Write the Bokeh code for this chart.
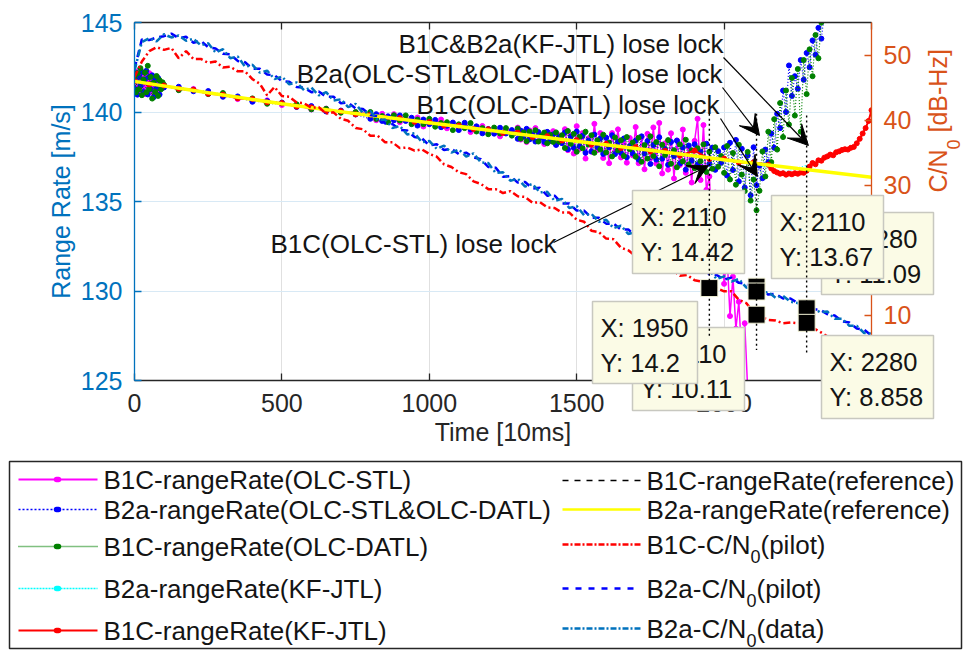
import math
from bokeh.plotting import figure
from bokeh.models import Range1d, LinearAxis, FixedTicker, Label, Arrow, VeeHead
from bokeh.core.properties import value
from bokeh.embed import file_html
from bokeh.resources import INLINE

FONT = "Liberation Sans"
DARK = "#262626"
AX_BLUE = "#0072BD"
AX_ORANGE = "#D95319"
INK = "#141414"

# ---------------------------------------------------------------- time grids [10 ms]
olc_t = (list(range(0, 100, 5)) + list(range(100, 800, 50))
         + list(range(800, 1300, 20)) + list(range(1300, 2341, 10)))
stl_t = (list(range(0, 100, 5)) + list(range(100, 800, 50))
         + list(range(800, 1300, 20)) + list(range(1300, 2081, 10)))
kf_b1c_t = list(range(0, 2151, 50)) + list(range(2160, 2501, 10))
kf_b2a_t = list(range(0, 2301, 100)) + list(range(2320, 2501, 20))
ref_t = list(range(0, 2501, 250))
cn0_t = (list(range(0, 2101, 25)) + [2110] + list(range(2125, 2276, 25))
         + [2280] + list(range(2300, 2501, 25)))

# ---------------------------------------------------------------- range rate [m/s]
b1c_stl_rr = [
    141.90, 141.39, 142.27, 141.16, 141.95, 141.44, 142.12, 141.01, 142.00, 141.48,
    142.17, 141.16, 141.75, 141.03, 141.92, 141.21, 141.70, 141.28, 141.57, 141.36,
    141.49, 141.24, 141.29, 141.02, 141.00, 140.72, 140.72, 140.65, 140.39, 140.38,
    140.14, 140.19, 139.98, 139.99,
    139.90, 139.54, 139.90, 139.62, 139.88, 139.43, 139.60, 139.40, 139.69, 139.19,
    139.49, 139.31, 139.58, 139.09, 139.34, 139.11, 139.31, 138.88, 139.13, 139.22,
    138.85, 138.99, 138.64, 139.01, 138.78,
    139.13, 138.46, 138.89, 138.32, 138.97, 138.55, 139.10, 138.38, 138.71, 138.21,
    138.87, 138.37, 138.93, 138.18, 138.70, 138.36,
    139.04, 137.87, 138.70, 137.68, 139.21, 137.94, 138.82, 137.40, 138.53, 137.78,
    139.34, 137.87, 138.82, 137.43, 138.56, 137.14, 138.82, 137.80, 139.03, 137.46,
    138.24, 137.17, 138.55, 137.58, 139.16,
    137.14, 138.57, 136.80, 138.78, 137.41, 139.14, 137.12, 139.39, 136.57, 138.25,
    136.78, 138.81, 136.29, 138.41, 137.04, 139.02, 136.60, 138.03, 136.06, 138.39,
    139.62, 136.20, 139.27, 135.65,
    136.40, 133.00, 135.50, 131.20, 133.80, 130.40, 132.00, 128.60, 130.80, 127.90,
    129.40, 126.30, 128.20, 124.50,
]

b2a_olc_rr = [
    141.30, 142.19, 140.97, 141.96, 141.45, 142.24, 141.12, 141.81, 142.30, 140.98,
    141.97, 141.26, 142.05, 140.83, 141.82, 141.31, 141.90, 140.98, 141.57, 141.36,
    141.37, 141.41, 141.16, 141.17, 140.85, 140.87, 140.57, 140.61, 140.53, 140.28,
    140.33, 140.03, 140.08, 139.86,
    139.62, 139.88, 139.50, 139.76, 139.54, 139.81, 139.50, 139.68, 139.24, 139.58,
    139.32, 139.56, 139.15, 139.23, 139.41, 138.99, 139.40, 139.02, 139.20, 138.81,
    139.05, 138.79, 139.12, 138.80, 138.99,
    138.50, 138.96, 138.62, 139.06, 138.47, 138.75, 138.35, 138.88, 138.56, 138.33,
    138.89, 138.39, 138.75, 138.16, 138.60, 138.26, 138.86, 137.92, 138.62, 138.00,
    138.91, 138.09, 138.68, 137.72, 138.40, 137.80, 138.74, 138.04, 138.52, 137.66,
    138.56, 138.02, 138.70, 137.65, 138.33, 137.72, 138.52, 137.47, 138.10, 137.68,
    138.40, 137.34, 138.64, 137.68, 138.38, 137.10, 138.16, 137.34, 138.59, 137.39,
    137.93, 137.05, 138.33, 137.54, 138.40, 137.12, 138.02, 136.78, 138.13, 137.28,
    138.20, 137.08, 137.78, 136.77, 138.23, 137.11, 138.01, 136.77, 137.81, 137.16,
    138.02, 136.45, 138.28, 136.76, 138.44, 136.12, 137.95, 135.78, 137.57, 135.35,
    138.03, 135.91,
    137.00, 136.30, 137.90, 137.20, 138.80, 138.00, 139.90, 139.10, 141.20, 140.00,
    142.60, 140.90, 142.00, 141.30, 142.90, 141.80, 143.30, 142.50, 144.00, 143.20,
    144.70, 144.10, 145.50,
]

b1c_datl_rr = [
    142.00, 141.09, 142.17, 141.26, 142.45, 140.94, 141.82, 142.21, 141.10, 142.58,
    141.27, 141.96, 140.75, 141.63, 141.12, 142.01, 140.90, 141.78, 141.27, 141.66,
    141.52, 141.22, 141.24, 141.00, 141.06, 140.78, 140.76, 140.46, 140.48, 140.43,
    140.15, 140.18, 139.96, 140.00,
    140.00, 139.61, 139.77, 139.43, 139.82, 139.52, 139.81, 139.32, 139.58, 139.32,
    139.62, 139.18, 139.38, 139.43, 138.99, 139.31, 139.10, 139.38, 138.91, 139.10,
    138.76, 139.13, 138.80, 139.10, 138.68,
    139.08, 138.51, 138.86, 138.37, 138.91, 138.57, 138.98, 138.35, 138.66, 138.85,
    138.25, 138.73, 138.33, 138.86, 138.34, 138.70, 137.99, 138.94, 138.22, 138.78,
    137.78, 138.62, 137.97, 138.90, 138.18, 138.70, 137.72, 138.42, 137.90, 138.73,
    137.74, 138.29, 137.52, 138.58, 137.86, 138.42, 137.54, 138.60, 137.92, 138.30,
    137.50, 138.56, 137.22, 138.15, 137.40, 138.64, 137.54, 138.32, 136.97, 138.17,
    137.60, 138.43, 137.11, 137.87, 136.91, 138.19, 137.24, 138.45, 137.06, 137.86,
    136.86, 137.98, 137.25, 138.19, 136.65, 137.78, 136.83, 138.03, 136.94, 137.54,
    136.60, 138.10, 136.23, 137.71, 135.94, 138.17, 136.50, 135.58, 137.77, 135.05,
    136.23, 134.51,
    135.60, 137.80, 136.40, 138.90, 137.20, 139.60, 137.90, 140.50, 138.60, 141.20,
    139.30, 141.90, 139.80, 142.40, 138.90, 142.90, 141.00, 143.50, 142.00, 144.30,
    143.00, 145.00, 146.00,
]

b2a_kf_rr = [
    141.68, 141.45, 141.21, 140.95, 140.70, 140.46, 140.24, 140.02, 139.81, 139.61,
    139.41, 139.20, 138.99, 138.79, 138.58, 138.37, 138.17, 137.97, 137.76, 137.55,
    137.33, 137.14, 136.62, 137.12,
    137.28, 137.43, 137.60, 137.73, 137.86, 137.92, 138.03, 138.48, 139.08, 140.05,
]

b1c_kf_rr = [
    141.72, 141.54, 141.48, 141.30, 141.24, 141.02, 140.97, 140.77, 140.73, 140.54,
    140.50, 140.30, 140.26, 140.07, 140.05, 139.87, 139.85, 139.66, 139.66, 139.45,
    139.44, 139.24, 139.24, 139.05, 139.04, 138.83, 138.85, 138.61, 138.65, 138.41,
    138.43, 138.18, 138.22, 137.99, 138.04, 137.80, 137.84, 137.57, 137.84, 137.38,
    137.40, 137.18, 137.19, 137.05,
    136.85, 136.70, 136.62, 136.55, 136.58, 136.50, 136.56, 136.52, 136.58, 136.55,
    136.62, 136.60, 136.72, 136.95, 137.15, 137.08, 137.30, 137.28, 137.45, 137.52,
    137.62, 137.58, 137.75, 137.80, 137.88, 137.92, 137.90, 138.00, 138.05, 138.25,
    138.50, 138.80, 139.10, 139.50, 140.10,
]

b1c_ref_rr = [141.70, 141.06, 140.45, 139.90, 139.40, 138.88, 138.36, 137.86, 137.32, 136.84, 136.35]
b2a_ref_rr = [141.71, 141.07, 140.46, 139.91, 139.40, 138.88, 138.37, 137.86, 137.33, 136.84, 136.36]

# ---------------------------------------------------------------- C/N0 [dB-Hz]
b1c_cn0_pilot = [
    46.6, 49.0, 50.6, 51.2, 50.8, 51.1, 49.5, 50.6, 49.4, 49.4,
    48.8, 49.0, 48.1, 48.2, 47.5, 47.5, 46.3, 45.6, 43.8, 45.1,
    43.7, 43.6, 42.7, 42.6, 41.9, 42.0, 41.0, 41.2, 40.2, 39.9,
    38.8, 38.6, 37.6, 37.6, 36.6, 36.6, 35.7, 35.8, 35.3, 35.5,
    34.8, 34.4, 33.2, 32.8, 32.0, 31.7, 30.6, 30.2, 29.4, 29.4,
    28.8, 29.1, 28.3, 28.2, 27.3, 27.4, 26.6, 26.5, 25.8, 25.8,
    24.7, 24.4, 23.0, 22.8, 21.8, 21.7, 20.4, 20.0, 19.1, 19.0,
    18.1, 17.9, 17.1, 17.0, 16.1, 16.2, 15.4, 15.2, 14.2, 14.2,
    13.7, 13.7, 12.4, 11.9, 10.5,
    10.11,
    9.8, 9.3, 9.2, 8.8, 8.9, 8.8, 9.0,
    8.858,
    8.1, 7.5, 6.8, 6.7, 6.2, 6.1, 5.7, 5.6, 5.1,
]

b2a_cn0_pilot = [
    47.9, 52.4, 52.3, 52.7, 52.9, 53.3, 52.6, 52.8, 51.9, 52.2,
    51.2, 51.0, 50.2, 50.1, 49.1, 48.9, 47.9, 47.9, 47.0, 46.9,
    46.0, 45.9, 45.1, 45.0, 44.3, 44.4, 43.6, 43.6, 42.6, 42.7,
    41.8, 41.7, 40.8, 40.6, 39.5, 39.4, 38.5, 38.4, 37.4, 37.2,
    36.1, 36.3, 35.4, 35.6, 34.8, 35.0, 34.3, 34.0, 32.8, 32.7,
    31.3, 31.4, 30.4, 30.5, 29.5, 29.6, 28.4, 28.4, 27.2, 27.2,
    26.1, 26.1, 25.0, 25.0, 24.1, 24.1, 23.2, 23.2, 22.2, 22.1,
    21.0, 21.0, 19.9, 19.9, 18.8, 18.7, 17.5, 17.5, 16.3, 16.2,
    15.5, 15.8, 15.0, 14.9, 14.1,
    14.42,
    13.9, 13.2, 13.3, 12.6, 12.6, 11.9, 11.6,
    11.5,
    10.9, 10.9, 10.2, 10.0, 9.1, 8.9, 8.0, 7.8, 6.9,
]

b2a_cn0_data = [
    47.6, 52.0, 52.6, 52.1, 53.2, 52.7, 53.0, 52.2, 52.5, 51.5,
    51.8, 50.4, 50.9, 49.5, 49.8, 48.2, 48.5, 47.3, 47.6, 46.3,
    46.7, 45.5, 45.8, 44.6, 45.0, 43.8, 44.3, 43.0, 43.2, 42.0,
    42.5, 41.1, 41.4, 40.0, 40.1, 38.8, 39.1, 37.8, 38.0, 36.6,
    36.8, 35.6, 36.1, 35.0, 35.5, 34.4, 34.9, 33.5, 33.4, 31.9,
    32.0, 30.7, 31.0, 29.8, 30.2, 28.9, 29.0, 27.6, 27.9, 26.5,
    26.8, 25.4, 25.6, 24.4, 24.7, 23.4, 23.8, 22.5, 22.8, 21.4,
    21.7, 20.3, 20.6, 19.2, 19.4, 18.0, 18.2, 16.8, 16.9, 15.6,
    16.0, 15.2, 15.6, 14.3, 14.1,
    13.67,
    13.4, 13.6, 12.7, 13.0, 12.1, 11.9, 11.0,
    11.09,
    11.2, 10.5, 10.6, 9.5, 9.5, 8.4, 8.4, 7.3, 7.2,
]

# ---------------------------------------------------------------- data tips and loss-of-lock events
tip_t = [1950, 2110, 2110, 2110, 2280, 2280]
tip_cn0 = [14.2, 10.11, 14.42, 13.67, 11.09, 8.858]

lock_t = [1950, 2110, 2280]
lock_top = [139.9, 139.9, 139.8]
lock_bottom = [127.4, 126.7, 126.4]

callout_text = [
    "B1C&B2a(KF-JTL) lose lock",
    "B2a(OLC-STL&OLC-DATL) lose lock",
    "B1C(OLC-DATL) lose lock",
    "B1C(OLC-STL) lose lock",
]
callout_tip = [(2286, 138.13), (2120, 138.69), (2113, 136.40), (1947, 137.00)]

series_names = [
    "B1C-rangeRate(OLC-STL)",
    "B2a-rangeRate(OLC-STL&OLC-DATL)",
    "B1C-rangeRate(OLC-DATL)",
    "B2a-rangeRate(KF-JTL)",
    "B1C-rangeRate(KF-JTL)",
    "B1C-rangeRate(reference)",
    "B2a-rangeRate(reference)",
]

# ================================================================= figure
W, H = 971, 651
FL, FR, FT, FB = 134, 871, 22, 380          # plot frame edges on the canvas
X_LIM, Y_LIM, CN0_LIM = (0, 2500), (125, 145), (0, 55)

p = figure(width=W, height=H, x_range=Range1d(*X_LIM), y_range=Range1d(*Y_LIM),
           output_backend="svg", toolbar_location=None,
           min_border_left=FL, min_border_right=W - FR,
           min_border_top=FT, min_border_bottom=H - FB)
p.extra_y_ranges = {"cn0": Range1d(*CN0_LIM)}
p.outline_line_color = None
p.background_fill_color = "white"
p.border_fill_color = "white"


def cx(px):
    """canvas column -> time coordinate (for items placed around the frame)"""
    return X_LIM[0] + (px - FL) * (X_LIM[1] - X_LIM[0]) / (FR - FL)


def cy(py):
    """canvas row -> left-axis coordinate (for items placed around the frame)"""
    return Y_LIM[1] - (py - FT) * (Y_LIM[1] - Y_LIM[0]) / (FB - FT)


def style_axis(ax, color, ticks):
    ax.ticker = FixedTicker(ticks=ticks)
    ax.axis_line_color = color
    ax.axis_line_width = 1.3
    ax.major_tick_line_color = color
    ax.major_tick_line_width = 1.3
    ax.minor_tick_line_color = None
    ax.major_tick_in = 7
    ax.major_tick_out = 0
    ax.major_label_text_color = color
    ax.major_label_text_font = FONT
    ax.major_label_text_font_size = "25px"
    ax.axis_label_text_color = color
    ax.axis_label_text_font = FONT
    ax.axis_label_text_font_size = "25px"
    ax.axis_label_text_font_style = "normal"


time_ticks = [0, 500, 1000, 1500, 2000, 2500]

xa = p.xaxis[0]
style_axis(xa, DARK, time_ticks)
xa.axis_label = "Time [10ms]"
xa.major_label_standoff = 13
xa.axis_label_standoff = 3

ya = p.yaxis[0]
style_axis(ya, AX_BLUE, [125, 130, 135, 140, 145])
ya.axis_label = "Range Rate [m/s]"
ya.major_label_standoff = 12
ya.axis_label_standoff = 3

top_ax = LinearAxis()
style_axis(top_ax, DARK, time_ticks)
top_ax.major_label_text_font_size = "1px"
top_ax.major_label_text_color = None
top_ax.major_label_standoff = 0
p.add_layout(top_ax, "above")

right_ax = LinearAxis(y_range_name="cn0")
style_axis(right_ax, AX_ORANGE, [0, 10, 20, 30, 40, 50])
right_ax.major_label_standoff = 12
p.add_layout(right_ax, "right")

p.xgrid.ticker = FixedTicker(ticks=[500, 1000, 1500, 2000])
p.xgrid.grid_line_color = "#e0e0e0"
p.ygrid.ticker = FixedTicker(ticks=[130, 135, 140])
p.ygrid.grid_line_color = "#d8e9f5"

# ---- range-rate curves (left axis)
p.line(stl_t, b1c_stl_rr, line_color="#FF00FF", line_width=1.5)
p.scatter(stl_t, b1c_stl_rr, size=5, color="#FF00FF")
p.line(olc_t, b2a_olc_rr, line_color="#0000FF", line_width=1.2, line_dash="1 2")
p.scatter(olc_t, b2a_olc_rr, size=5, color="#0000FF")
p.line(olc_t, b1c_datl_rr, line_color="#008000", line_width=1.2, line_dash="1 2")
p.scatter(olc_t, b1c_datl_rr, size=5, color="#008000")
p.line(kf_b2a_t, b2a_kf_rr, line_color="#00FFFF", line_width=1.2, line_dash="1 2")
p.scatter(kf_b2a_t, b2a_kf_rr, size=3, color="#00FFFF")
p.line(kf_b1c_t, b1c_kf_rr, line_color="#FF0000", line_width=2)
p.scatter(kf_b1c_t, b1c_kf_rr, size=5, color="#FF0000")
p.line(ref_t, b1c_ref_rr, line_color="#000000", line_width=1.2, line_dash="6 4")
p.line(ref_t, b2a_ref_rr, line_color="#FFFF00", line_width=3.5)

# ---- carrier-to-noise density (right axis)
p.line(cn0_t, b1c_cn0_pilot, y_range_name="cn0", line_color="#FF0000",
       line_width=2.5, line_dash="7 3 2 3")
p.line(cn0_t, b2a_cn0_pilot, y_range_name="cn0", line_color="#0000FF",
       line_width=2.5, line_dash="7 5")
p.line(cn0_t, b2a_cn0_data, y_range_name="cn0", line_color=AX_BLUE,
       line_width=2.5, line_dash="7 3 2 3")

p.scatter(tip_t, tip_cn0, y_range_name="cn0", marker="square", size=17,
          fill_color="black", line_color="#f4f4d8", line_width=1)

# ---- callouts
callout_anchor = [(cx(723), cy(43)), (cx(722), cy(73)), (cx(719), cy(104)), (cx(556), cy(243))]
callout_tail = [(cx(723), cy(57)), (cx(722), cy(87)), (cx(720), cy(118)), (cx(553), cy(242))]
for txt, (ax_, ay_), (sx_, sy_), (ex, ey) in zip(callout_text, callout_anchor,
                                                 callout_tail, callout_tip):
    p.add_layout(Arrow(end=VeeHead(size=20, fill_color="black", line_color="black"),
                       x_start=sx_, y_start=sy_, x_end=ex, y_end=ey,
                       line_color="black", line_width=1.2))
    p.add_layout(Label(x=ax_, y=ay_, text=txt, text_font=FONT, text_font_size="26px",
                       text_color=INK, text_align="right", text_baseline="middle"))

# ---- data-tip boxes (drawn on the overlay level so they may spill past the frame)
tip_box = [(592, 697, 301, 383), (632, 744, 327, 410), (632, 744, 190, 273),
           (771, 883, 195, 278), (821, 933, 212, 294), (821, 933, 335, 418)]
for i in [1, 0, 4, 3, 2, 5]:
    l, r, t, b = tip_box[i]
    p.quad(left=[cx(l)], right=[cx(r)], top=[cy(t)], bottom=[cy(b)],
           fill_color="#fbfbe6", line_color="#c8c8c0", line_width=1.5, level="overlay")
    p.text([cx(l + 8)] * 2, [cy(t + 26), cy(t + 61)],
           text=[f"X: {tip_t[i]}", f"Y: {tip_cn0[i]}"],
           text_font=value(FONT), text_font_size="25.5px", text_color=INK,
           text_baseline="middle", level="overlay")

# ---- dotted loss-of-lock markers
p.segment(x0=lock_t, y0=lock_top, x1=lock_t, y1=lock_bottom, line_color="black",
          line_width=1.4, line_dash="2 3", level="overlay")

# ---- right axis title with subscript
for txt, px_, py_, fs in [("C/N", 937, 192, "25px"), ("0", 953, 149, "18px"),
                          ("[dB-Hz]", 937, 132, "25px")]:
    p.text([cx(px_)], [cy(py_)], text=[txt], angle=math.pi / 2,
           text_font=value(FONT), text_font_size=fs, text_color=AX_ORANGE,
           text_baseline="middle", level="overlay")

# ================================================================= legend block
LEG_FS = "26px"
p.quad(left=[cx(9)], right=[cx(961)], top=[cy(461)], bottom=[cy(648)],
       fill_color="white", line_color=DARK, line_width=1.5, level="overlay")

left_rows = [479, 509, 546, 588, 630]
right_rows = [480, 509, 544, 588, 628]
left_style = [
    ("#FF00FF", "solid", 2.0),
    ("#0000FF", "2 2", 1.5),
    ("#008000", "1 1", 1.5),
    ("#00FFFF", "2 1", 1.5),
    ("#FF0000", "solid", 2.0),
]
for name, (col, dash, lw), yy in zip(series_names[:5], left_style, left_rows):
    p.line([cx(18), cx(97)], [cy(yy), cy(yy)], line_color=col, line_dash=dash,
           line_width=lw, level="overlay")
    p.line([cx(56), cx(58)], [cy(yy), cy(yy)], line_color=col, line_width=5.5,
           line_cap="round", level="overlay")
    p.text([cx(103)], [cy(yy)], text=[name], text_font=value(FONT),
           text_font_size=LEG_FS, text_color=INK, text_baseline="middle",
           level="overlay")

right_style = [
    ("#000000", "6 6", 1.5),
    ("#FFFF00", "solid", 2.5),
    ("#FF0000", "6 2 2 2", 2.5),
    ("#0000FF", "6 7", 2.5),
    (AX_BLUE, "6 2 2 2", 2.5),
]
for (col, dash, lw), yy in zip(right_style, right_rows):
    p.line([cx(562), cx(640)], [cy(yy), cy(yy)], line_color=col, line_dash=dash,
           line_width=lw, level="overlay")

for name, yy in zip(series_names[5:], right_rows[:2]):
    p.text([cx(646)], [cy(yy)], text=[name], text_font=value(FONT),
           text_font_size=LEG_FS, text_color=INK, text_baseline="middle",
           level="overlay")

cn0_labels = [("B1C-C/N", "(pilot)", 104), ("B2a-C/N", "(pilot)", 100), ("B2a-C/N", "(data)", 100)]
for (head, tail, w), yy in zip(cn0_labels, right_rows[2:]):
    p.text([cx(646)], [cy(yy)], text=[head], text_font=value(FONT),
           text_font_size=LEG_FS, text_color=INK, text_baseline="middle", level="overlay")
    p.text([cx(646 + w)], [cy(yy + 12)], text=["0"], text_font=value(FONT),
           text_font_size="18px", text_color=INK, text_baseline="middle", level="overlay")
    p.text([cx(646 + w + 10)], [cy(yy)], text=[tail], text_font=value(FONT),
           text_font_size=LEG_FS, text_color=INK, text_baseline="middle", level="overlay")

open("out.html", "w").write(file_html(p, INLINE, title="Range rate and C/N0"))
